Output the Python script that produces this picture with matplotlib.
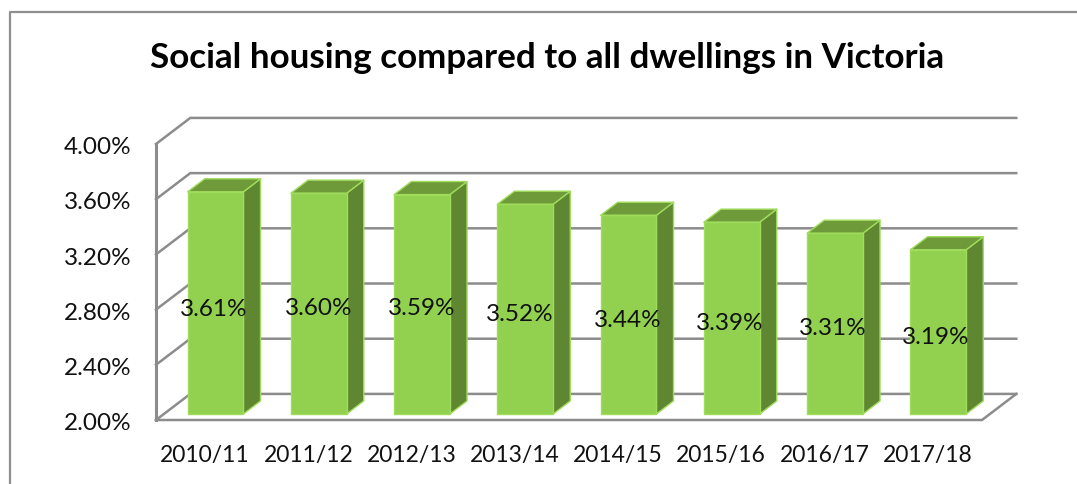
import matplotlib
matplotlib.use("Agg")
import matplotlib.pyplot as plt
from matplotlib.patches import Polygon

plt.rcParams['font.family'] = ['Lato', 'DejaVu Sans']

categories = ['2010/11', '2011/12', '2012/13', '2013/14', '2014/15', '2015/16', '2016/17', '2017/18']
values = [3.61, 3.60, 3.59, 3.52, 3.44, 3.39, 3.31, 3.19]
y_ticks = [2.0, 2.4, 2.8, 3.2, 3.6, 4.0]
# small nudges of the data labels in pixels, the source has them hand placed
label_dx = [-2, 0, 0, -6, -1, -2, -2, -3]
label_dy = [-6, -4, -3, -4, -5, -4, -4, -5]

W, H = 1077, 485
GRID = '#8c8c8c'
FRONT = '#92d050'
SIDE = '#5f8732'
TOP = '#6f9a3a'
EDGE = '#9fdc5c'

# depth of the 3d box, in data units
DX = 0.332
DY = 0.189
BAR_W = 0.54
D0, D1 = 0.23, 0.73


def proj(x, y, d):
    return x + d * DX, y + d * DY


fig = plt.figure(figsize=(W / 100, H / 100), dpi=100)
ax = fig.add_axes([156 / W, 1 - 421 / H, 826 / W, 276 / H])
ax.set_xlim(-0.5, 7.5)
ax.set_ylim(2.0, 4.0)
ax.axis('off')

# chart frame, cut off at right and bottom in the source
fig.add_artist(plt.Line2D([9.5 / W, 9.5 / W, 1], [0, 1 - 13 / H, 1 - 13 / H], color='#8f8f8f', lw=1.6))

x0, x1 = -0.5, 7.5
for t in y_ticks:
    bx0, by = proj(x0, t, 1)
    bx1, _ = proj(x1, t, 1)
    ax.plot([x0, bx0, bx1], [t, by, by], color=GRID, lw=1.8, clip_on=False, zorder=1, solid_joinstyle='miter')
    ax.annotate(f'{t:.2f}%', (-0.74, t), xytext=(0, -2), textcoords='offset points',
                ha='right', va='center', fontsize=17.5, color='#111111', annotation_clip=False)

# walls and floor front edges
ax.plot([x0, x0], [2.0, 4.0], color=GRID, lw=2.2, clip_on=False, zorder=1)
fx, fy = proj(x1, 2.0, 1)
ax.plot([x0, x1, fx], [2.0, 2.0, fy], color=GRID, lw=1.8, clip_on=False, zorder=1)

for i, v in enumerate(values):
    l, r = i - BAR_W / 2, i + BAR_W / 2
    a = proj(l, 2.0, D0)
    b = proj(r, 2.0, D0)
    c = proj(r, v, D0)
    d = proj(l, v, D0)
    c2 = proj(r, v, D1)
    d2 = proj(l, v, D1)
    b2 = proj(r, 2.0, D1)
    ax.add_patch(Polygon([b, b2, c2, c], fc=SIDE, ec=EDGE, lw=1, clip_on=False, zorder=2, joinstyle='round'))
    ax.add_patch(Polygon([d, c, c2, d2], fc=TOP, ec=EDGE, lw=1, clip_on=False, zorder=2, joinstyle='round'))
    ax.add_patch(Polygon([a, b, c, d], fc=FRONT, ec=EDGE, lw=1, clip_on=False, zorder=3, joinstyle='round'))
    cx, cy = proj(i, (2.0 + v) / 2, D0)
    ax.annotate(f'{v:.2f}%', (cx, cy), xytext=(label_dx[i] * 0.72, label_dy[i] * 0.72),
                textcoords='offset points', ha='center', va='center', fontsize=17.5,
                color='#111111', zorder=4)
    ax.text(i - 0.025, 1.75, categories[i], ha='center', va='center', fontsize=16.5, color='#111111')

fig.text(547 / W, 1 - 58 / H, 'Social housing compared to all dwellings in Victoria',
         ha='center', va='center', fontsize=25.2, fontweight='bold', color='black')

fig.savefig('out.png', dpi=100)
